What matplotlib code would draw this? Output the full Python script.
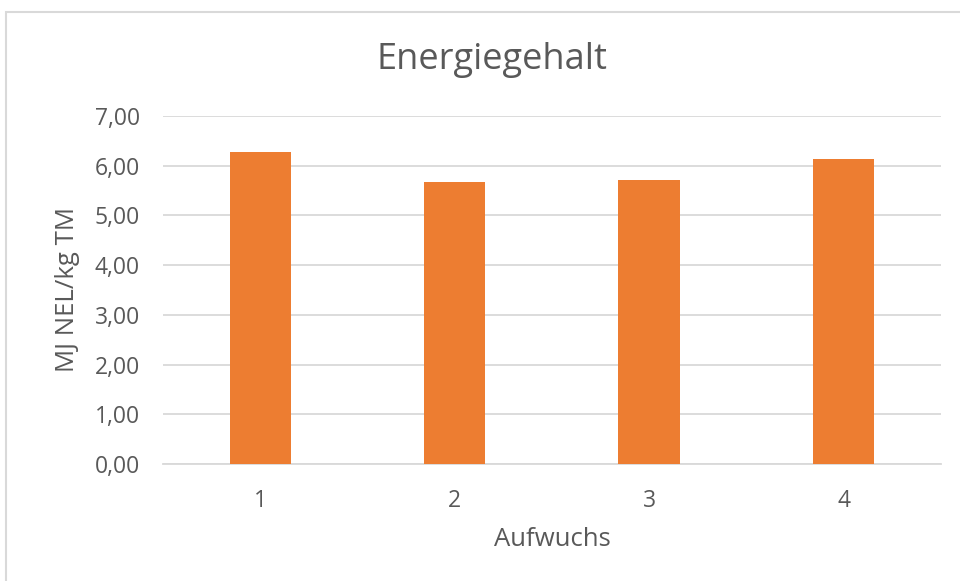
import matplotlib
matplotlib.use("Agg")
import matplotlib.pyplot as plt
from matplotlib.patches import Rectangle

# ---- DATA ---- #
categories = ["1", "2", "3", "4"]
energy = [6.27, 5.67, 5.71, 6.14]
y_ticks = [0, 1, 2, 3, 4, 5, 6, 7]
y_labels = ["0,00", "1,00", "2,00", "3,00", "4,00", "5,00", "6,00", "7,00"]

plt.rcParams['font.family'] = ['Open Sans', 'DejaVu Sans']
text_col = "#595959"
grid_col = "#D9D9D9"

fig = plt.figure(figsize=(9.6, 5.81), dpi=100)
ax = fig.add_axes([163 / 960, 1 - 464 / 581, (940.75 - 163) / 960, (464 - 116) / 581])

x = range(len(categories))
ax.bar(x, energy, width=0.315, color="#ED7D31", zorder=3)

ax.set_xlim(-0.5, len(categories) - 0.5)
ax.set_ylim(0, 7)
ax.set_xticks(list(x))
ax.set_xticklabels(categories)
ax.set_yticks(y_ticks)
ax.set_yticklabels(y_labels)
ax.yaxis.grid(True, color=grid_col, linewidth=1.3, zorder=0)
ax.tick_params(length=0, labelsize=16.5, colors=text_col)
ax.tick_params(axis='y', pad=16.5)
ax.tick_params(axis='x', pad=18)

for s in ["top", "right", "left"]:
    ax.spines[s].set_visible(False)
ax.spines["bottom"].set_color(grid_col)
ax.spines["bottom"].set_linewidth(1.3)

ax.set_xlabel("Aufwuchs", fontsize=18.5, color=text_col, va="center")
ax.xaxis.set_label_coords(0.5, (464 - 539) / 348)
ax.set_ylabel("MJ NEL/kg TM", fontsize=18.5, color=text_col, va="center")
ax.yaxis.set_label_coords((68 - 163) / 777.75, 0.5)
fig.text(492 / 960, 1 - 60 / 581, "Energiegehalt", fontsize=26, color=text_col,
         ha="center", va="center")

# chart frame
fig.patches.append(Rectangle((5.5 / 960, -0.1), 1.2, 1 - 12.5 / 581 + 0.1,
                             transform=fig.transFigure, fill=False,
                             edgecolor="#D9D9D9", linewidth=1.5))

fig.savefig("out.png", dpi=100)
